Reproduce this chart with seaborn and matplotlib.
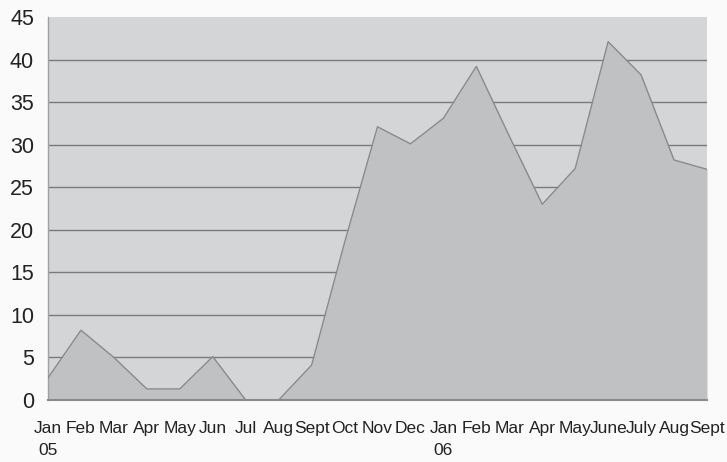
import matplotlib
matplotlib.use("Agg")
import matplotlib.pyplot as plt
import seaborn as sns
import pandas as pd
import numpy as np

months = ["Jan\n05", "Feb", "Mar", "Apr", "May", "Jun", "Jul", "Aug", "Sept", "Oct",
          "Nov", "Dec", "Jan\n06", "Feb", "Mar", "Apr", "May", "June", "July", "Aug", "Sept"]
values = [2.6, 8.2, 5.0, 1.3, 1.3, 5.1, 0, 0, 4.1, 18.5,
          32.1, 30.1, 33.1, 39.2, 31.0, 23.0, 27.2, 42.1, 38.2, 28.2, 27.1]
yticks = [0, 5, 10, 15, 20, 25, 30, 35, 40, 45]

sns.set_style("white")
plt.rcParams['font.family'] = ['Liberation Sans', 'DejaVu Sans']

df = pd.DataFrame({"idx": np.arange(len(values)), "value": values})

fig = plt.figure(figsize=(7.27, 4.62), dpi=100)
fig.patch.set_facecolor("#fafafa")
ax = fig.add_axes([48/727, 62/462, (707-48)/727, (400-17)/462])
ax.set_facecolor("#d4d5d7")

ax.fill_between(df["idx"], df["value"], 0, color="#c0c1c3", zorder=2, linewidth=0)
sns.lineplot(data=df, x="idx", y="value", ax=ax, color="#8a8a8a", linewidth=1.0, zorder=3)

ax.set_ylim(0, 45)
ax.set_xlim(0, len(values) - 1)
ax.set_yticks(yticks)
ax.set_yticklabels([str(t) for t in yticks], fontsize=15.5, color="#222222")
ax.set_xticks(df["idx"])
ax.set_xticklabels(months, fontsize=12.5, color="#222222", linespacing=1.6)
ax.set_xlabel("")
ax.set_ylabel("")

for t in yticks[1:-1]:
    ax.axhline(t, color="#7a7a7a", linewidth=1.0, zorder=1)

for side in ["top", "right"]:
    ax.spines[side].set_visible(False)
ax.spines["left"].set_color("#a0a0a0")
ax.spines["left"].set_linewidth(1.0)
ax.spines["bottom"].set_color("#8a8a8a")
ax.spines["bottom"].set_linewidth(1.5)
ax.spines["bottom"].set_zorder(4)

ax.tick_params(axis="x", direction="out", length=5, width=1, color="#8a8a8a", pad=10)
ax.tick_params(axis="y", direction="out", length=5, width=1, color="#a0a0a0", pad=5)

fig.savefig("out.png", dpi=100, facecolor=fig.get_facecolor())
